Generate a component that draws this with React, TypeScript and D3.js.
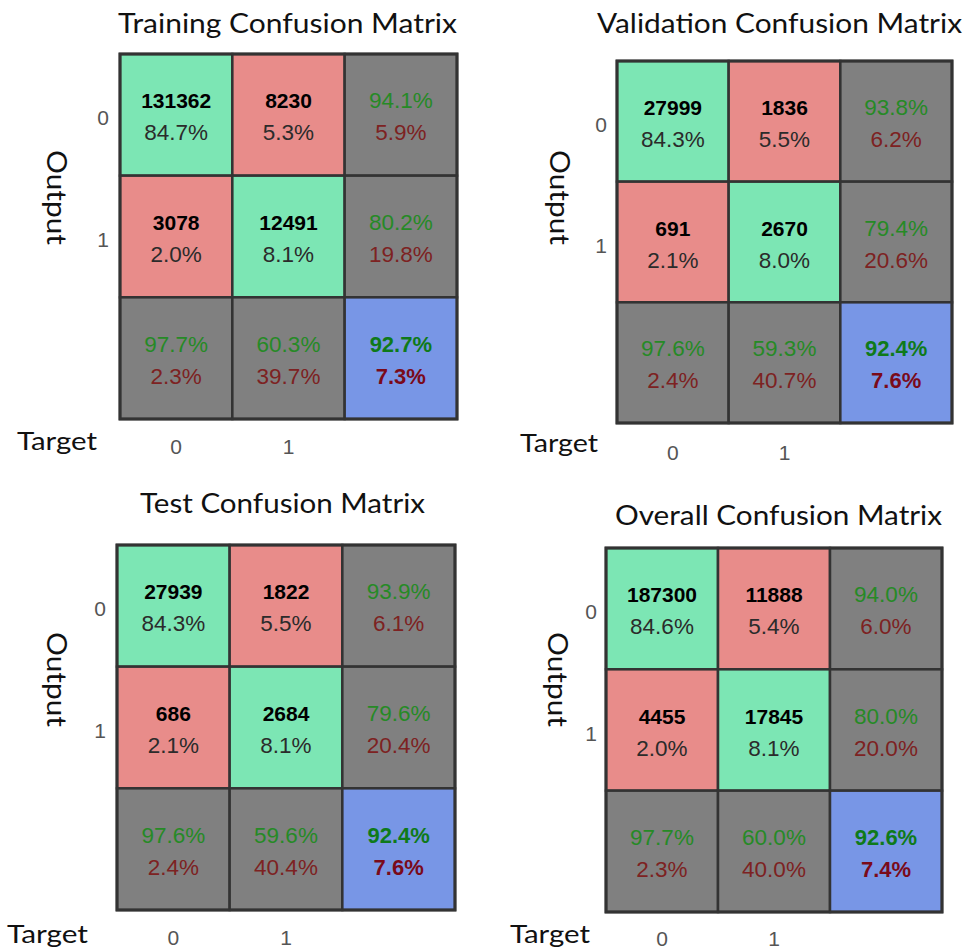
import React from "react";
import * as d3 from "d3";

// ---------- data ----------
const panelTitles = [
  "Training Confusion Matrix",
  "Validation Confusion Matrix",
  "Test Confusion Matrix",
  "Overall Confusion Matrix",
];
const classLabels = ["0", "1"];
const axisLabelOutput = "Output";
const axisLabelTarget = "Target";

const trainingCounts = [131362, 8230, 3078, 12491];
const trainingCellPct = [84.7, 5.3, 2.0, 8.1];
const trainingRowPct = [94.1, 80.2];
const trainingColPct = [97.7, 60.3];
const trainingTotalPct = 92.7;

const validationCounts = [27999, 1836, 691, 2670];
const validationCellPct = [84.3, 5.5, 2.1, 8.0];
const validationRowPct = [93.8, 79.4];
const validationColPct = [97.6, 59.3];
const validationTotalPct = 92.4;

const testCounts = [27939, 1822, 686, 2684];
const testCellPct = [84.3, 5.5, 2.1, 8.1];
const testRowPct = [93.9, 79.6];
const testColPct = [97.6, 59.6];
const testTotalPct = 92.4;

const overallCounts = [187300, 11888, 4455, 17845];
const overallCellPct = [84.6, 5.4, 2.0, 8.1];
const overallRowPct = [94.0, 80.0];
const overallColPct = [97.7, 60.0];
const overallTotalPct = 92.6;

const panelData = [
  { counts: trainingCounts, cellPct: trainingCellPct, rowPct: trainingRowPct, colPct: trainingColPct, total: trainingTotalPct },
  { counts: validationCounts, cellPct: validationCellPct, rowPct: validationRowPct, colPct: validationColPct, total: validationTotalPct },
  { counts: testCounts, cellPct: testCellPct, rowPct: testRowPct, colPct: testColPct, total: testTotalPct },
  { counts: overallCounts, cellPct: overallCellPct, rowPct: overallRowPct, colPct: overallColPct, total: overallTotalPct },
];

// ---------- layout (positions / sizes) ----------
const layouts = [
  { grid: [120, 54, 457, 419], title: [118, 457, 33], out: [57, 150, 245], rowTickX: 103, target: [17, 97, 450], colTickY: 446 },
  { grid: [617, 61, 952, 423], title: [597, 962, 33], out: [560, 150, 245], rowTickX: 601, target: [520, 598, 452], colTickY: 452 },
  { grid: [117, 545, 455, 910], title: [140, 425, 513], out: [57, 632, 727], rowTickX: 100, target: [7, 88, 943], colTickY: 937 },
  { grid: [606, 548, 942, 912], title: [615, 942, 525], out: [558, 632, 727], rowTickX: 591, target: [510, 590, 943], colTickY: 938 },
];

const COLORS = {
  green: "#7ce6b4",
  red: "#e88c8a",
  gray: "#808080",
  blue: "#7896e6",
  border: "#333333",
  txtGreen: "#268a26",
  txtRed: "#7d2222",
  pctDark: "#2b2b2b",
  tick: "#555555",
};

const TITLE_FONT = "Lato, 'Open Sans', sans-serif";
const CELL_FONT = "'Liberation Sans', Arial, sans-serif";

const fmt = (v: number) => v.toFixed(1) + "%";
const comp = (v: number) => (100 - v).toFixed(1) + "%";

function Panel({ idx }: { idx: number }) {
  const L = layouts[idx];
  const D = panelData[idx];
  const [x0, y0, x1, y1] = L.grid;
  const xs = d3.scaleBand<number>().domain([0, 1, 2]).range([x0, x1]);
  const ys = d3.scaleBand<number>().domain([0, 1, 2]).range([y0, y1]);
  const bw = xs.bandwidth();
  const bh = ys.bandwidth();

  const cells: React.ReactNode[] = [];
  for (let r = 0; r < 3; r++) {
    for (let c = 0; c < 3; c++) {
      const cx = (xs(c) as number) + bw / 2;
      const cy = (ys(r) as number) + bh / 2;
      let fill = COLORS.gray;
      let line1 = "";
      let line2 = "";
      let c1 = "#000";
      let c2 = COLORS.pctDark;
      let w1: any = "bold";
      let w2: any = "normal";
      let s1 = 22.5;
      if (r < 2 && c < 2) {
        fill = r === c ? COLORS.green : COLORS.red;
        line1 = String(D.counts[r * 2 + c]);
        line2 = fmt(D.cellPct[r * 2 + c]);
        s1 = 21;
      } else if (r < 2 && c === 2) {
        line1 = fmt(D.rowPct[r]);
        line2 = comp(D.rowPct[r]);
        c1 = COLORS.txtGreen;
        c2 = COLORS.txtRed;
        w1 = "normal";
      } else if (r === 2 && c < 2) {
        line1 = fmt(D.colPct[c]);
        line2 = comp(D.colPct[c]);
        c1 = COLORS.txtGreen;
        c2 = COLORS.txtRed;
        w1 = "normal";
      } else {
        fill = COLORS.blue;
        line1 = fmt(D.total);
        line2 = comp(D.total);
        c1 = "#0f7a1a";
        c2 = "#7a0a1a";
        w1 = "bold";
        w2 = "bold";
        s1 = 22;
      }
      cells.push(
        <g key={`c${r}${c}`}>
          <rect x={xs(c)} y={ys(r)} width={bw} height={bh} fill={fill} stroke={COLORS.border} strokeWidth={2.5} />
          <text x={cx} y={cy - 14} textAnchor="middle" dominantBaseline="central" fontFamily={CELL_FONT} fontSize={s1} fontWeight={w1} fill={c1}>
            {line1}
          </text>
          <text x={cx} y={cy + 18} textAnchor="middle" dominantBaseline="central" fontFamily={CELL_FONT} fontSize={w2 === "bold" ? 22 : 22.5} fontWeight={w2} fill={c2}>
            {line2}
          </text>
        </g>
      );
    }
  }

  const [tx0, tx1, tBase] = L.title;
  const [ox, oy0, oy1] = L.out;
  const [gx0, gx1, gBase] = L.target;

  return (
    <g>
      <text x={(tx0 + tx1) / 2} y={tBase} textAnchor="middle" fontFamily={TITLE_FONT} fontSize={27} fill="#111" textLength={tx1 - tx0} lengthAdjust="spacingAndGlyphs">
        {panelTitles[idx]}
      </text>
      {cells}
      <rect x={x0} y={y0} width={x1 - x0} height={y1 - y0} fill="none" stroke={COLORS.border} strokeWidth={3} />
      <text
        transform={`translate(${ox},${(oy0 + oy1) / 2}) rotate(90)`}
        textAnchor="middle"
        dominantBaseline="central"
        fontFamily={TITLE_FONT}
        fontSize={27}
        fill="#111"
        textLength={oy1 - oy0}
        lengthAdjust="spacingAndGlyphs"
      >
        {axisLabelOutput}
      </text>
      {classLabels.map((lab, i) => (
        <text key={`r${i}`} x={L.rowTickX} y={(ys(i) as number) + bh / 2 + 3} textAnchor="middle" dominantBaseline="central" fontFamily={CELL_FONT} fontSize={21} fill={COLORS.tick}>
          {lab}
        </text>
      ))}
      {classLabels.map((lab, i) => (
        <text key={`t${i}`} x={(xs(i) as number) + bw / 2} y={L.colTickY} textAnchor="middle" dominantBaseline="central" fontFamily={CELL_FONT} fontSize={21} fill={COLORS.tick}>
          {lab}
        </text>
      ))}
      <text x={(gx0 + gx1) / 2} y={gBase} textAnchor="middle" fontFamily={TITLE_FONT} fontSize={25} fill="#111" textLength={gx1 - gx0} lengthAdjust="spacingAndGlyphs">
        {axisLabelTarget}
      </text>
    </g>
  );
}

export default function App() {
  return (
    <svg width={966} height={948} style={{ position: "absolute", left: 0, top: 0, background: "#fff" }}>
      <rect x={0} y={0} width={966} height={948} fill="#fff" />
      {panelTitles.map((_, i) => (
        <Panel key={i} idx={i} />
      ))}
    </svg>
  );
}
